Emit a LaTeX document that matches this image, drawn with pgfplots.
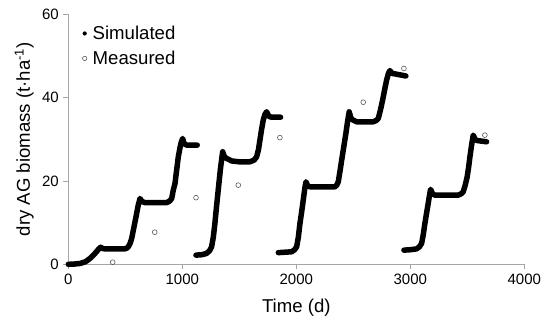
\documentclass[border=0pt]{standalone}
\usepackage{pgfplots}
\pgfplotsset{compat=1.18}
\usepackage{fontspec}
\setmainfont{Liberation Sans}
\definecolor{axgrey}{HTML}{A6A6A6}
\definecolor{mgrey}{HTML}{595959}
\begin{document}
\begin{tikzpicture}
\useasboundingbox (-68.3bp,-60.7bp) rectangle (486.7bp,264.3bp);
\begin{axis}[
  at={(0,0)}, anchor=origin,
  scale only axis, width=456bp, height=250bp,
  xmin=0, xmax=4000, ymin=0, ymax=60,
  axis x line*=bottom, axis y line*=left,
  axis line style={axgrey, line width=0.6pt, -},
  xtick={0,1000,2000,3000,4000}, ytick={0,20,40,60},
  tick style={axgrey, line width=0.6pt},
  tick align=outside, major tick length=5bp,
  xticklabel style={font=\fontsize{15bp}{17bp}\selectfont, yshift=-1bp},
  yticklabel style={font=\fontsize{15bp}{17bp}\selectfont, xshift=-1bp},
  /pgf/number format/assume math mode=true,
  /pgf/number format/1000 sep={},
  xlabel={Time (d)}, ylabel={dry AG biomass (t·ha\textsuperscript{-1})},
  label style={font=\fontsize{18.6bp}{20bp}\selectfont},
  xlabel style={at={(axis description cs:0.5,0)}, anchor=center, yshift=-43bp},
  ylabel style={at={(axis description cs:0,0.5)}, anchor=center, rotate=0, yshift=44bp},
  legend style={draw=none, fill=none, at={(axis cs:94,58.2)}, anchor=north west,
    font=\fontsize{18.6bp}{20bp}\selectfont, row sep=6bp,
    /tikz/every odd column/.append style={column sep=3.5bp}},
  legend cell align=left,
  clip=false,
]
\addplot[black, line width=5.5bp, line join=round, line cap=round,
  legend image code/.code={\fill[black, draw=none] (0cm,0cm) circle (2.1bp);}]
coordinates {(0,0) (50,0.05) (103,0.2) (150,0.6) (190,1.4) (234,2.6) (265,3.6) (284,4.1) (300,3.8) (322,3.7) (400,3.7) (497,3.7) (515,3.9) (526,4.2) (542,5.0) (556,6.2) (575,8.8) (594,11.4) (612,14.0) (629,15.8) (645,15.1) (673,14.8) (760,14.8) (863,14.8) (890,15.2) (907,15.8) (921,17.8) (936,19.4) (950,22.5) (965,25.8) (980,28.0) (990,29.2) (1003,30.2) (1015,29.0) (1038,28.6) (1131,28.6)};
\addlegendentry{Simulated}
\addplot[only marks, mark=o, mark size=2.4bp, mgrey, mark options={line width=0.6pt},
  legend image code/.code={\draw[mgrey, line width=0.6pt, fill=none] (0cm,0cm) circle (2.2bp);}]
coordinates {(389,0.5) (758,7.7) (1120,16.0) (1491,19.0) (1856,30.4) (2587,38.9) (2944,47.0) (3654,31.0)};
\addlegendentry{Measured}
\addplot[forget plot, black, line width=5.5bp, line join=round, line cap=round]
coordinates {(1120,2.2) (1170,2.3) (1213,2.6) (1240,3.3) (1257,4.2) (1272,6.5) (1286,9.8) (1300,13.8) (1315,17.8) (1335,23) (1354,27.0) (1370,25.8) (1389,25.4) (1433,24.8) (1500,24.6) (1593,24.6) (1630,25.0) (1652,25.8) (1668,27.5) (1681,29.8) (1695,32.3) (1710,34.6) (1725,36.0) (1740,36.6) (1760,35.5) (1784,35.3) (1862,35.3)};
\addplot[forget plot, black, line width=5.5bp, line join=round, line cap=round]
coordinates {(1842,2.8) (1900,2.9) (1959,3.0) (1985,3.5) (2003,4.2) (2018,6.5) (2032,9.8) (2047,12.6) (2061,15.4) (2075,18.3) (2085,19.8) (2100,18.8) (2120,18.6) (2339,18.6) (2355,19.0) (2368,19.8) (2383,22.3) (2398,25.0) (2417,28.3) (2435,31.4) (2450,34.3) (2464,36.6) (2480,35.0) (2499,34.6) (2529,34.2) (2675,34.2) (2700,34.5) (2719,35.0) (2738,37.0) (2757,39.4) (2775,41.9) (2792,44.2) (2808,45.8) (2821,46.5) (2840,45.8) (2865,45.7) (2961,45.2)};
\addplot[forget plot, black, line width=5.5bp, line join=round, line cap=round]
coordinates {(2944,3.4) (3000,3.5) (3055,3.7) (3080,4.2) (3099,5.0) (3113,7.0) (3128,9.8) (3143,12.3) (3157,14.6) (3168,16.5) (3178,18.0) (3195,16.9) (3216,16.6) (3420,16.6) (3445,16.9) (3464,17.4) (3482,19.0) (3499,21.0) (3512,23.4) (3523,25.8) (3537,28.5) (3552,31.0) (3570,29.9) (3587,29.7) (3669,29.4)};
\end{axis}
\end{tikzpicture}
\end{document}
